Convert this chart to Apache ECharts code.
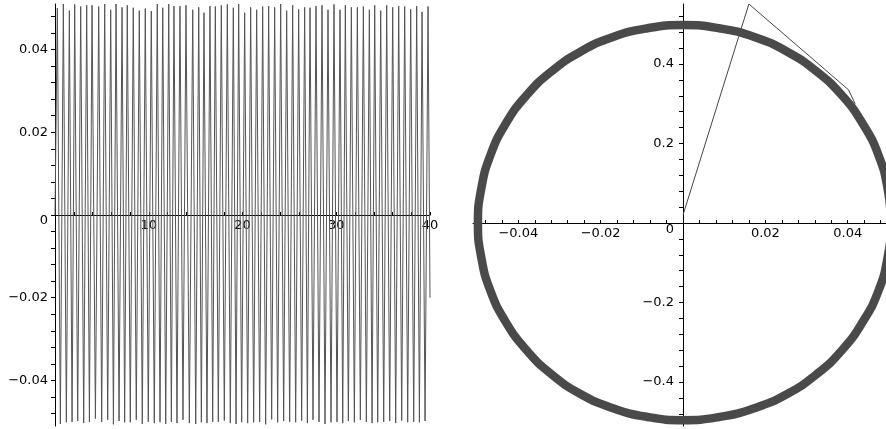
<!DOCTYPE html>
<html><head><meta charset="utf-8">
<script src="https://cdn.jsdelivr.net/npm/echarts@6/dist/echarts.min.js"></script>
<style>html,body{margin:0;padding:0;background:#fff}#c{width:886px;height:429px}</style>
</head><body><div id="c"></div>
<script>
// ---- left panel: x(t), peaks and troughs ----
const peakT = [0.25,0.89,1.53,2.10,2.74,3.38,3.95,4.66,5.30,5.94,
  6.51,7.15,7.71,8.35,8.99,9.63,10.27,10.91,11.49,12.13,
  12.69,13.33,13.97,14.69,15.33,15.89,16.53,17.10,17.74,18.38,
  19.02,19.59,20.23,20.87,21.51,22.15,22.79,23.43,24.07,24.71,
  25.35,25.99,26.63,27.20,27.84,28.48,29.12,29.76,30.40,30.97,
  31.61,32.25,32.89,33.53,34.10,34.74,35.38,36.02,36.66,37.30,
  37.94,38.58,39.15,39.79];
const peakV = [0.0500,0.0510,0.0494,0.0509,0.0504,0.0507,0.0507,0.0504,0.0510,0.0496,
  0.0510,0.0502,0.0507,0.0501,0.0494,0.0499,0.0493,0.0510,0.0501,0.0510,
  0.0505,0.0505,0.0507,0.0496,0.0502,0.0489,0.0505,0.0504,0.0507,0.0509,
  0.0501,0.0510,0.0489,0.0502,0.0496,0.0504,0.0505,0.0502,0.0510,0.0494,
  0.0507,0.0497,0.0502,0.0501,0.0505,0.0507,0.0496,0.0509,0.0496,0.0507,
  0.0502,0.0502,0.0504,0.0496,0.0507,0.0494,0.0507,0.0502,0.0505,0.0504,
  0.0497,0.0505,0.0491,0.0504];
const troughT = [0.57,1.21,1.82,2.42,3.06,3.67,4.31,4.98,5.62,6.23,
  6.83,7.43,8.03,8.67,9.31,9.95,10.59,11.20,11.81,12.41,
  13.01,13.65,14.33,15.01,15.61,16.21,16.82,17.42,18.06,18.70,
  19.31,19.91,20.55,21.19,21.83,22.47,23.11,23.75,24.39,25.03,
  25.67,26.31,26.92,27.52,28.16,28.80,29.44,30.08,30.69,31.29,
  31.93,32.57,33.21,33.82,34.42,35.06,35.70,36.34,36.98,37.62,
  38.26,38.87,39.47];
const troughV = [-0.0505,-0.0501,-0.0500,-0.0498,-0.0503,-0.0500,-0.0492,-0.0500,-0.0495,-0.0506,
  -0.0498,-0.0501,-0.0501,-0.0495,-0.0505,-0.0500,-0.0503,-0.0501,-0.0505,-0.0500,
  -0.0503,-0.0495,-0.0503,-0.0505,-0.0501,-0.0503,-0.0500,-0.0500,-0.0497,-0.0503,
  -0.0505,-0.0501,-0.0503,-0.0501,-0.0500,-0.0506,-0.0494,-0.0501,-0.0498,-0.0500,
  -0.0501,-0.0497,-0.0503,-0.0495,-0.0500,-0.0505,-0.0501,-0.0500,-0.0503,-0.0498,
  -0.0501,-0.0495,-0.0500,-0.0503,-0.0501,-0.0500,-0.0498,-0.0503,-0.0497,-0.0501,
  -0.0500,-0.0501,-0.0498];
const startPoint = [0, 0];
const endPoint = [40, -0.02];

// ---- right panel: phase portrait (band) ----
const ellipseX = [0.0505,0.0497,0.0475,0.0437,0.0387,0.0325,0.0253,0.0173,0.0088,0,
  -0.0086,-0.0170,-0.0249,-0.0320,-0.0381,-0.0431,-0.0468,-0.0490,-0.0498,
  -0.0490,-0.0468,-0.0431,-0.0381,-0.0320,-0.0249,-0.0170,-0.0086,0,
  0.0088,0.0173,0.0253,0.0325,0.0387,0.0437,0.0475,0.0497,0.0505,0.0497];
const ellipseY = [0,0.086,0.170,0.249,0.320,0.381,0.431,0.468,0.490,0.498,
  0.490,0.468,0.431,0.381,0.320,0.249,0.170,0.086,0,
  -0.086,-0.170,-0.248,-0.319,-0.380,-0.430,-0.466,-0.488,-0.496,
  -0.488,-0.466,-0.430,-0.380,-0.319,-0.248,-0.170,-0.086,0,0.086];
const transientX = [0, 0.0160, 0.0402, 0.0418];
const transientY = [0.020, 0.551, 0.335, 0.300];

// ---- ticks and labels ----
const leftXTicks = [2,4,6,8,10,12,14,16,18,20,22,24,26,28,30,32,34,36,38,40];
const leftXLabels = [10,20,30,40];
const leftYTicks = [-0.048,-0.044,-0.04,-0.036,-0.032,-0.028,-0.024,-0.02,-0.016,-0.012,-0.008,-0.004,0,
  0.004,0.008,0.012,0.016,0.02,0.024,0.028,0.032,0.036,0.04,0.044,0.048];
const leftYLabels = [-0.04,-0.02,0,0.02,0.04];
const rightXTicks = [-0.048,-0.044,-0.04,-0.036,-0.032,-0.028,-0.024,-0.02,-0.016,-0.012,-0.008,-0.004,0,
  0.004,0.008,0.012,0.016,0.02,0.024,0.028,0.032,0.036,0.04,0.044,0.048];
const rightXLabels = [-0.04,-0.02,0.02,0.04];
const rightYTicks = [-0.48,-0.44,-0.4,-0.36,-0.32,-0.28,-0.24,-0.2,-0.16,-0.12,-0.08,-0.04,0,
  0.04,0.08,0.12,0.16,0.2,0.24,0.28,0.32,0.36,0.4,0.44,0.48,0.52];
const rightYLabels = [-0.4,-0.2,0,0.2,0.4];

// build series data from the arrays
const leftData = [startPoint];
for (let i = 0; i < peakT.length; i++) {
  leftData.push([peakT[i], peakV[i]]);
  if (i < troughT.length) leftData.push([troughT[i], troughV[i]]);
}
leftData.push(endPoint);
const ellipseData = ellipseX.map((x, i) => [x, ellipseY[i]]);
const transientData = transientX.map((x, i) => [x, transientY[i]]);

const FONT = 'DejaVu Sans';
const FS = 13;
function fmt(v) {
  if (Math.abs(v) < 1e-12) return '{z|0}';
  const s = String(+Math.abs(v).toFixed(4));
  return (v < 0 ? '\u2212' : '') + s;
}
function label(values, margin, zPad) {
  return {
    customValues: values, formatter: fmt, margin: margin,
    color: '#000', fontFamily: FONT, fontSize: FS,
    rich: { z: { padding: [zPad, 0, 0, 0], color: '#000', fontFamily: FONT, fontSize: FS } }
  };
}
const axLine = { show: true, onZero: false, lineStyle: { color: '#000', width: 1 } };

const chart = echarts.init(document.getElementById('c'), null, { renderer: 'canvas' });
chart.setOption({
  animation: false,
  backgroundColor: '#fff',
  grid: [
    { left: 55, top: 4, width: 375, height: 422, containLabel: false, outerBoundsMode: 'none' },
    { left: 473, top: 4, width: 413, height: 422, containLabel: false, outerBoundsMode: 'none' }
  ],
  xAxis: [
    { type: 'value', gridIndex: 0, min: 0, max: 40, offset: -211,
      axisLine: axLine, splitLine: { show: false },
      axisTick: { customValues: leftXTicks, inside: true, length: 3, lineStyle: { color: '#000' } },
      axisLabel: label(leftXLabels, 4, 0) },
    { type: 'value', gridIndex: 1, min: -0.0510, max: 0.0493, offset: -203,
      axisLine: axLine, splitLine: { show: false },
      axisTick: { customValues: rightXTicks, inside: true, length: 3, lineStyle: { color: '#000' } },
      axisLabel: label(rightXLabels, 4, 0) }
  ],
  yAxis: [
    { type: 'value', gridIndex: 0, min: -0.0510, max: 0.0510,
      axisLine: axLine, splitLine: { show: false },
      axisTick: { customValues: leftYTicks, length: 4, lineStyle: { color: '#000' } },
      axisLabel: label(leftYLabels, 7, 11) },
    { type: 'value', gridIndex: 1, min: -0.5107, max: 0.551, offset: -210,
      axisLine: axLine, splitLine: { show: false },
      axisTick: { customValues: rightYTicks, length: 4, lineStyle: { color: '#000' } },
      axisLabel: label(rightYLabels, 9, 13) }
  ],
  series: [
    { type: 'line', xAxisIndex: 0, yAxisIndex: 0, data: leftData, showSymbol: false,
      clip: false, lineStyle: { color: '#555', width: 1 }, z: 2 },
    { type: 'line', xAxisIndex: 1, yAxisIndex: 1, data: transientData, showSymbol: false,
      clip: false, lineStyle: { color: '#444', width: 1 }, z: 2 },
    { type: 'line', xAxisIndex: 1, yAxisIndex: 1, data: ellipseData, showSymbol: false, smooth: 0.5,
      clip: false, lineStyle: { color: '#4a4a4a', width: 8.5 }, z: 3 }
  ]
});
</script></body></html>
